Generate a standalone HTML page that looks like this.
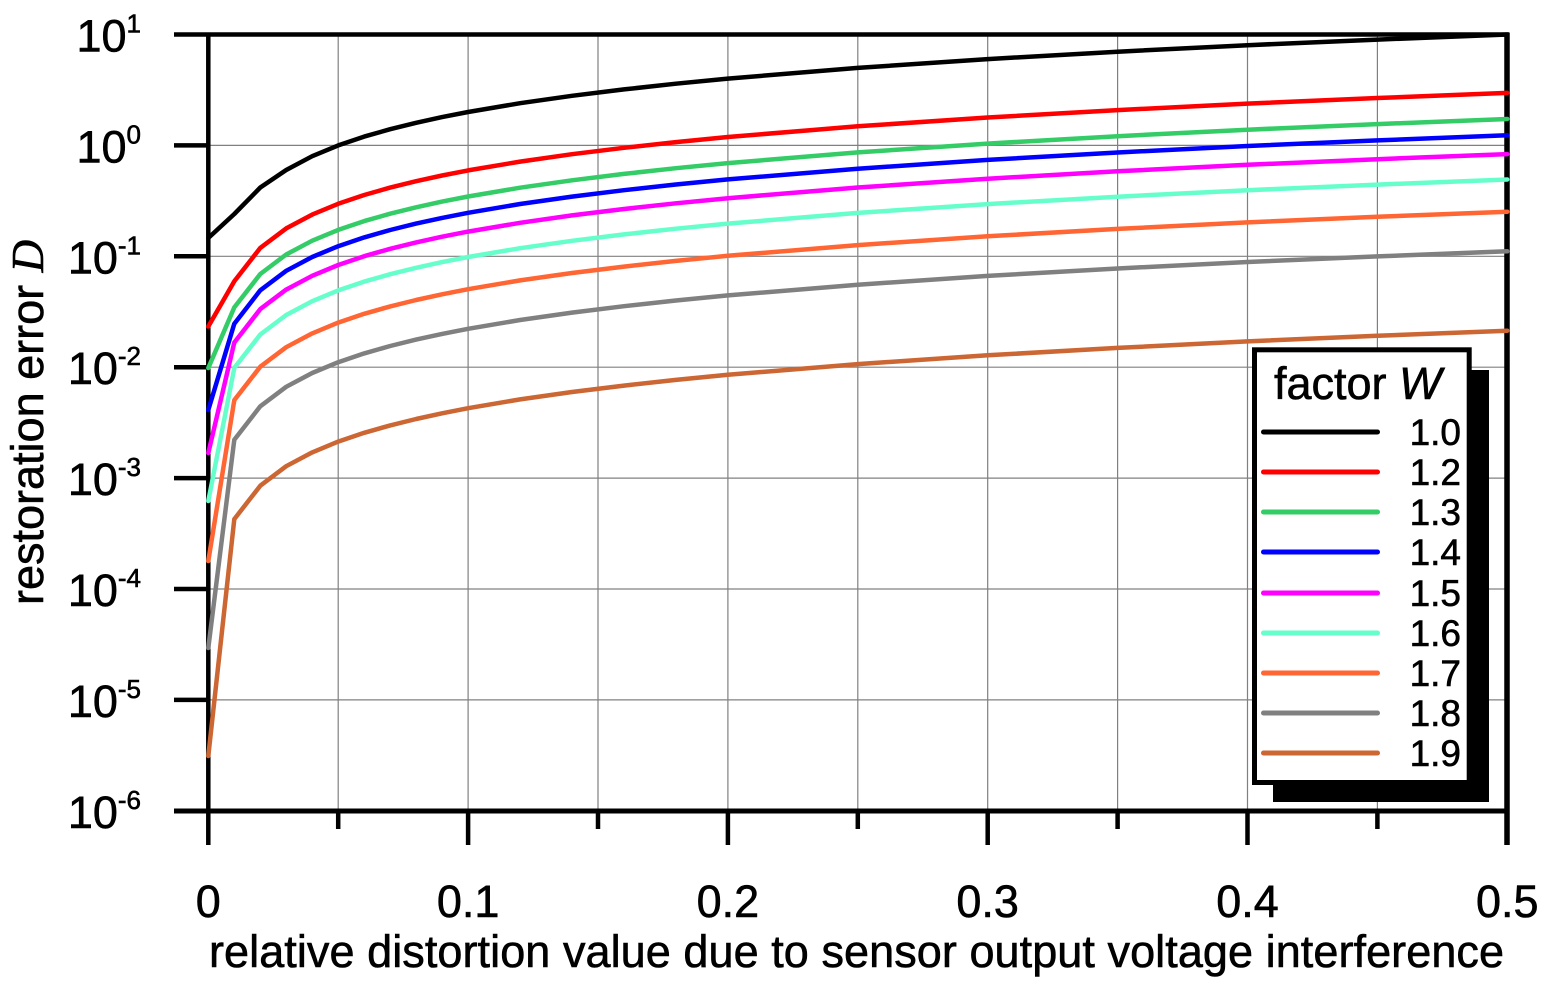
<!DOCTYPE html>
<html>
<head>
<meta charset="utf-8">
<style>
html,body{margin:0;padding:0;background:#fff;}
svg{display:block;}
text{font-family:"Liberation Sans",Arial,sans-serif;fill:#000;stroke:#000;stroke-width:0.6px;}
</style>
</head>
<body>
<svg width="1552" height="988" viewBox="0 0 1552 988" xmlns="http://www.w3.org/2000/svg">
<rect x="0" y="0" width="1552" height="988" fill="#fff"/>

<!-- gridlines -->
<g stroke="#808080" stroke-width="1.2" fill="none">
<line x1="208" y1="145.4" x2="1507" y2="145.4"/>
<line x1="208" y1="256.3" x2="1507" y2="256.3"/>
<line x1="208" y1="367.2" x2="1507" y2="367.2"/>
<line x1="208" y1="478.1" x2="1507" y2="478.1"/>
<line x1="208" y1="589.0" x2="1507" y2="589.0"/>
<line x1="208" y1="699.9" x2="1507" y2="699.9"/>
<line x1="338.2" y1="34.5" x2="338.2" y2="811"/>
<line x1="468.1" y1="34.5" x2="468.1" y2="811"/>
<line x1="598.0" y1="34.5" x2="598.0" y2="811"/>
<line x1="727.9" y1="34.5" x2="727.9" y2="811"/>
<line x1="857.8" y1="34.5" x2="857.8" y2="811"/>
<line x1="987.7" y1="34.5" x2="987.7" y2="811"/>
<line x1="1117.6" y1="34.5" x2="1117.6" y2="811"/>
<line x1="1247.5" y1="34.5" x2="1247.5" y2="811"/>
<line x1="1377.4" y1="34.5" x2="1377.4" y2="811"/>
</g>

<!-- axes -->
<g stroke="#000" fill="none" stroke-linecap="butt">
<line x1="174" y1="34.5" x2="1509" y2="34.5" stroke-width="4.5"/>
<line x1="174" y1="811" x2="1509" y2="811" stroke-width="5"/>
<line x1="208.3" y1="32.5" x2="208.3" y2="845" stroke-width="4.5"/>
<line x1="1507" y1="32.5" x2="1507" y2="845" stroke-width="5.5"/>
<g stroke-width="4.5">
<line x1="174" y1="145.4" x2="208" y2="145.4"/>
<line x1="174" y1="256.3" x2="208" y2="256.3"/>
<line x1="174" y1="367.2" x2="208" y2="367.2"/>
<line x1="174" y1="478.1" x2="208" y2="478.1"/>
<line x1="174" y1="589.0" x2="208" y2="589.0"/>
<line x1="174" y1="699.9" x2="208" y2="699.9"/>
<line x1="468.1" y1="811" x2="468.1" y2="845"/>
<line x1="727.9" y1="811" x2="727.9" y2="845"/>
<line x1="987.7" y1="811" x2="987.7" y2="845"/>
<line x1="1247.5" y1="811" x2="1247.5" y2="845"/>
<line x1="338.2" y1="811" x2="338.2" y2="829"/>
<line x1="598.0" y1="811" x2="598.0" y2="829"/>
<line x1="857.8" y1="811" x2="857.8" y2="829"/>
<line x1="1117.6" y1="811" x2="1117.6" y2="829"/>
<line x1="1377.4" y1="811" x2="1377.4" y2="829"/>
</g>
</g>

<!-- curves -->
<g fill="none" stroke-width="4.5" stroke-linejoin="round" stroke-linecap="round">
<path transform="translate(0,296.2)" stroke="#cc6633" d="M208.3,459.8 L234.3,222.9 L260.3,189.5 L286.2,170.0 L312.2,156.2 L338.2,145.4 L364.2,136.6 L390.2,129.2 L416.1,122.8 L442.1,117.1 L468.1,112.0 L520.1,103.2 L572.0,95.8 L624.0,89.4 L675.9,83.7 L727.9,78.6 L857.8,67.9 L987.7,59.1 L1117.6,51.7 L1247.5,45.2 L1377.4,39.6 L1507.3,34.5"/>
<path transform="translate(0,216.8)" stroke="#808080" d="M208.3,431.2 L234.3,222.9 L260.3,189.5 L286.2,170.0 L312.2,156.2 L338.2,145.4 L364.2,136.6 L390.2,129.2 L416.1,122.8 L442.1,117.1 L468.1,112.0 L520.1,103.2 L572.0,95.8 L624.0,89.4 L675.9,83.7 L727.9,78.6 L857.8,67.9 L987.7,59.1 L1117.6,51.7 L1247.5,45.2 L1377.4,39.6 L1507.3,34.5"/>
<path transform="translate(0,177.2)" stroke="#ff6633" d="M208.3,383.8 L234.3,222.9 L260.3,189.5 L286.2,170.0 L312.2,156.2 L338.2,145.4 L364.2,136.6 L390.2,129.2 L416.1,122.8 L442.1,117.1 L468.1,112.0 L520.1,103.2 L572.0,95.8 L624.0,89.4 L675.9,83.7 L727.9,78.6 L857.8,67.9 L987.7,59.1 L1117.6,51.7 L1247.5,45.2 L1377.4,39.6 L1507.3,34.5"/>
<path transform="translate(0,145)" stroke="#66ffcc" d="M208.3,356 L234.3,222.9 L260.3,189.5 L286.2,170.0 L312.2,156.2 L338.2,145.4 L364.2,136.6 L390.2,129.2 L416.1,122.8 L442.1,117.1 L468.1,112.0 L520.1,103.2 L572.0,95.8 L624.0,89.4 L675.9,83.7 L727.9,78.6 L857.8,67.9 L987.7,59.1 L1117.6,51.7 L1247.5,45.2 L1377.4,39.6 L1507.3,34.5"/>
<path transform="translate(0,119.6)" stroke="#ff00ff" d="M208.3,333.4 L234.3,222.9 L260.3,189.5 L286.2,170.0 L312.2,156.2 L338.2,145.4 L364.2,136.6 L390.2,129.2 L416.1,122.8 L442.1,117.1 L468.1,112.0 L520.1,103.2 L572.0,95.8 L624.0,89.4 L675.9,83.7 L727.9,78.6 L857.8,67.9 L987.7,59.1 L1117.6,51.7 L1247.5,45.2 L1377.4,39.6 L1507.3,34.5"/>
<path transform="translate(0,100.8)" stroke="#0000ff" d="M208.3,309.2 L234.3,222.9 L260.3,189.5 L286.2,170.0 L312.2,156.2 L338.2,145.4 L364.2,136.6 L390.2,129.2 L416.1,122.8 L442.1,117.1 L468.1,112.0 L520.1,103.2 L572.0,95.8 L624.0,89.4 L675.9,83.7 L727.9,78.6 L857.8,67.9 L987.7,59.1 L1117.6,51.7 L1247.5,45.2 L1377.4,39.6 L1507.3,34.5"/>
<path transform="translate(0,84.5)" stroke="#33cc66" d="M208.3,283.5 L234.3,222.9 L260.3,189.5 L286.2,170.0 L312.2,156.2 L338.2,145.4 L364.2,136.6 L390.2,129.2 L416.1,122.8 L442.1,117.1 L468.1,112.0 L520.1,103.2 L572.0,95.8 L624.0,89.4 L675.9,83.7 L727.9,78.6 L857.8,67.9 L987.7,59.1 L1117.6,51.7 L1247.5,45.2 L1377.4,39.6 L1507.3,34.5"/>
<path transform="translate(0,58.4)" stroke="#ff0000" d="M208.3,268.1 L234.3,222.9 L260.3,189.5 L286.2,170.0 L312.2,156.2 L338.2,145.4 L364.2,136.6 L390.2,129.2 L416.1,122.8 L442.1,117.1 L468.1,112.0 L520.1,103.2 L572.0,95.8 L624.0,89.4 L675.9,83.7 L727.9,78.6 L857.8,67.9 L987.7,59.1 L1117.6,51.7 L1247.5,45.2 L1377.4,39.6 L1507.3,34.5"/>
<path stroke="#000000" d="M208.3,238 L234.3,214 L260.3,187.5 L286.2,170.0 L312.2,156.2 L338.2,145.4 L364.2,136.6 L390.2,129.2 L416.1,122.8 L442.1,117.1 L468.1,112.0 L520.1,103.2 L572.0,95.8 L624.0,89.4 L675.9,83.7 L727.9,78.6 L857.8,67.9 L987.7,59.1 L1117.6,51.7 L1247.5,45.2 L1377.4,39.6 L1507.3,34.5"/>
</g>

<!-- y tick labels -->
<g font-size="45" text-anchor="end">
<text x="141" y="51.5">10<tspan font-size="26" dy="-19">1</tspan></text>
<text x="141" y="162.4">10<tspan font-size="26" dy="-19">0</tspan></text>
<text x="141" y="273.3">10<tspan font-size="26" dy="-19">-1</tspan></text>
<text x="141" y="384.2">10<tspan font-size="26" dy="-19">-2</tspan></text>
<text x="141" y="495.1">10<tspan font-size="26" dy="-19">-3</tspan></text>
<text x="141" y="606.0">10<tspan font-size="26" dy="-19">-4</tspan></text>
<text x="141" y="716.9">10<tspan font-size="26" dy="-19">-5</tspan></text>
<text x="141" y="827.8">10<tspan font-size="26" dy="-19">-6</tspan></text>
</g>

<!-- x tick labels -->
<g font-size="45" text-anchor="middle">
<text x="208.3" y="917">0</text>
<text x="468.1" y="917">0.1</text>
<text x="727.9" y="917">0.2</text>
<text x="987.7" y="917">0.3</text>
<text x="1247.5" y="917">0.4</text>
<text x="1507.3" y="917">0.5</text>
</g>

<!-- axis labels -->
<text x="209" y="967" font-size="45" textLength="1295" lengthAdjust="spacing">relative distortion value due to sensor output voltage interference</text>
<text transform="translate(43,605) rotate(-90)" font-size="45">restoration error <tspan style="font-family:'Liberation Serif','Times New Roman',serif;font-style:italic;">D</tspan></text>

<!-- legend -->
<rect x="1273" y="370" width="216" height="432" fill="#000"/>
<rect x="1254.5" y="349.8" width="214.7" height="432.7" fill="#fff" stroke="#000" stroke-width="5"/>
<text x="1274" y="399" font-size="45">factor <tspan font-style="italic">W</tspan></text>
<g stroke-width="5" stroke-linecap="round">
<line x1="1263.5" y1="432" x2="1377.5" y2="432" stroke="#000000"/>
<line x1="1263.5" y1="472" x2="1377.5" y2="472" stroke="#ff0000"/>
<line x1="1263.5" y1="512" x2="1377.5" y2="512" stroke="#33cc66"/>
<line x1="1263.5" y1="552" x2="1377.5" y2="552" stroke="#0000ff"/>
<line x1="1263.5" y1="593" x2="1377.5" y2="593" stroke="#ff00ff"/>
<line x1="1263.5" y1="633" x2="1377.5" y2="633" stroke="#66ffcc"/>
<line x1="1263.5" y1="673" x2="1377.5" y2="673" stroke="#ff6633"/>
<line x1="1263.5" y1="713" x2="1377.5" y2="713" stroke="#808080"/>
<line x1="1263.5" y1="753" x2="1377.5" y2="753" stroke="#cc6633"/>
</g>
<g font-size="37" text-anchor="end">
<text x="1461" y="445">1.0</text>
<text x="1461" y="485">1.2</text>
<text x="1461" y="525">1.3</text>
<text x="1461" y="565">1.4</text>
<text x="1461" y="606">1.5</text>
<text x="1461" y="646">1.6</text>
<text x="1461" y="686">1.7</text>
<text x="1461" y="726">1.8</text>
<text x="1461" y="766">1.9</text>
</g>
</svg>
</body>
</html>
